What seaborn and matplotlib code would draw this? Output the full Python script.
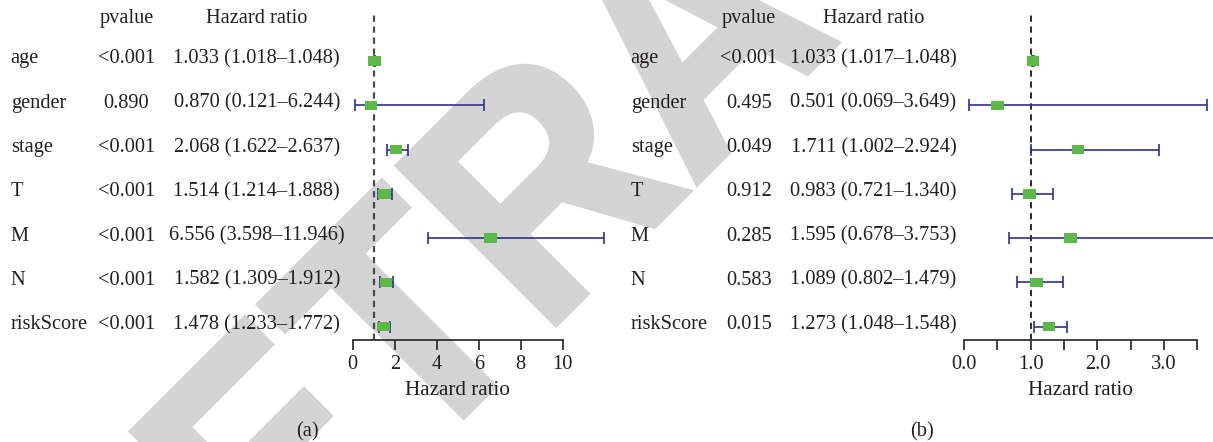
import numpy as np
import pandas as pd
import matplotlib
matplotlib.use("Agg")
import matplotlib.pyplot as plt
import matplotlib.transforms as mtransforms
from matplotlib.textpath import TextPath
from matplotlib.patches import PathPatch
from matplotlib.font_manager import FontProperties
import seaborn as sns

# ---------------- data ----------------
variables = ["age", "gender", "stage", "T", "M", "N", "riskScore"]

pvalue_a = ["<0.001", "0.890", "<0.001", "<0.001", "<0.001", "<0.001", "<0.001"]
hr_a = [1.033, 0.870, 2.068, 1.514, 6.556, 1.582, 1.478]
low_a = [1.018, 0.121, 1.622, 1.214, 3.598, 1.309, 1.233]
high_a = [1.048, 6.244, 2.637, 1.888, 11.946, 1.912, 1.772]

pvalue_b = ["<0.001", "0.495", "0.049", "0.912", "0.285", "0.583", "0.015"]
hr_b = [1.033, 0.501, 1.711, 0.983, 1.595, 1.089, 1.273]
low_b = [1.017, 0.069, 1.002, 0.721, 0.678, 0.802, 1.048]
high_b = [1.048, 3.649, 2.924, 1.340, 3.753, 1.479, 1.548]

xticks_a = [0, 2, 4, 6, 8, 10]
xticklabels_a = ["0", "2", "4", "6", "8", "10"]
xticks_b = [0, 0.5, 1.0, 1.5, 2.0, 2.5, 3.0, 3.5]
xticklabels_b = ["0.0", "", "1.0", "", "2.0", "", "3.0", ""]

panel_labels = ["(a)", "(b)"]
header_p = "pvalue"
header_hr = "Hazard ratio"
xlabel = "Hazard ratio"
watermark = "RETRACTED"

# ---------------- style ----------------
sns.set_theme(style="white")
plt.rcParams["font.family"] = ["Liberation Serif", "DejaVu Serif"]

TXT = "#231f20"
GREEN = "#5cb947"
BLUE = "#2e3192"
AXC = "#333333"
FS = 14.7

W, H = 1213, 442
fig = plt.figure(figsize=(W / 100, H / 100), dpi=100)

# background axes in pixel coordinates (for watermark + table texts)
bg = fig.add_axes([0, 0, 1, 1], zorder=-1)
bg.set_xlim(0, W)
bg.set_ylim(H, 0)
bg.axis("off")

# watermark: slightly condensed bold sans, rotated 45 degrees
WM = "#d4d4d4"
fp = FontProperties(family="Liberation Sans", weight="bold")
wm_path = TextPath((0, 0), watermark, size=1, prop=fp)
a_right = TextPath((0, 0), watermark[:5], size=1, prop=fp).get_extents().x1
EX, EY = 294.0, 325.0
wm_tr = (mtransforms.Affine2D().translate(-a_right, 0).scale(EX, EY)
         .rotate_deg(45).translate(837, H - 43))
wm_patch = PathPatch(wm_path, facecolor=WM, edgecolor=WM, linewidth=4.5,
                     transform=wm_tr + mtransforms.IdentityTransform(),
                     zorder=0, clip_on=False)
bg.add_patch(wm_patch)

rect_marker = [(-1, -0.75), (1, -0.75), (1, 0.75), (-1, 0.75), (-1, -0.75)]


def panel(left_px, xmax, px_per_unit, pvals, hr, lo, hi, xticks, xticklabels,
          col_label_x, col_p_x, col_hr_x, plabel_x, plabel, dash_color, dash_lw):
    top_px, bot_px = 12, 340
    width_px = xmax * px_per_unit
    ax = fig.add_axes([left_px / W, 1 - bot_px / H, width_px / W,
                       (bot_px - top_px) / H], zorder=1)
    ax.patch.set_alpha(0)
    df = pd.DataFrame({"var": variables, "row": np.arange(len(variables)),
                       "hr": hr, "low": lo, "high": hi})
    ax.axvline(1, color=dash_color, ls=(0, (4.5 / dash_lw, 3.4 / dash_lw)),
               lw=dash_lw, zorder=1)
    ax.errorbar(df["hr"], df["row"],
                xerr=[df["hr"] - df["low"], df["high"] - df["hr"]],
                fmt="none", ecolor=BLUE, elinewidth=1.2, capsize=4,
                capthick=1.2, clip_on=False, zorder=2)
    sns.scatterplot(data=df, x="hr", y="row", marker=rect_marker, s=82,
                    color=GREEN, edgecolor="none", linewidth=0, ax=ax,
                    zorder=3, clip_on=False, legend=False)
    ax.set_xlim(0, xmax)
    ax.set_ylim(6.30, -1.107)
    for s in ["top", "right", "left"]:
        ax.spines[s].set_visible(False)
    ax.spines["bottom"].set_color(AXC)
    ax.spines["bottom"].set_linewidth(1.3)
    ax.set_yticks([])
    ax.set_xticks(xticks)
    ax.set_xticklabels(xticklabels)
    ax.tick_params(axis="x", direction="out", length=7, width=1.3,
                   colors=AXC, labelcolor=TXT, labelsize=FS, pad=4,
                   bottom=True)
    ax.set_xlabel(xlabel, fontsize=FS + 0.5, color=TXT, labelpad=5)
    ax.set_ylabel("")

    tr = mtransforms.blended_transform_factory(bg.transData, ax.transData)
    trh = bg.transData
    for i, (v, p, h, l, u) in enumerate(zip(variables, pvals, hr, lo, hi)):
        y = i + 0.055
        bg.text(col_label_x, y, v, transform=tr, ha="left", va="baseline",
                fontsize=FS, color=TXT)
        bg.text(col_p_x, y, p, transform=tr, ha="center", va="baseline",
                fontsize=FS, color=TXT)
        bg.text(col_hr_x, y, f"{h:.3f} ({l:.3f}\u2013{u:.3f})", transform=tr,
                ha="center", va="baseline", fontsize=FS, color=TXT)
    bg.text(col_p_x, 22.7, header_p, transform=trh, ha="center",
            va="baseline", fontsize=FS, color=TXT)
    bg.text(col_hr_x, 22.7, header_hr, transform=trh, ha="center",
            va="baseline", fontsize=FS, color=TXT)
    bg.text(plabel_x, 436, plabel, transform=trh, ha="center",
            va="baseline", fontsize=FS, color=TXT)
    return ax


panel(352.7, 10, 21.0, pvalue_a, hr_a, low_a, high_a, xticks_a,
      xticklabels_a, 10.7, 126.5, 256.7, 307, panel_labels[0], "#4a4a4a", 1.6)
panel(964, 3.5, 66.67, pvalue_b, hr_b, low_b, high_b, xticks_b,
      xticklabels_b, 630.7, 749, 873.5, 921.7, panel_labels[1], "#1a1a1a", 1.3)

fig.savefig("out.png", dpi=100)
